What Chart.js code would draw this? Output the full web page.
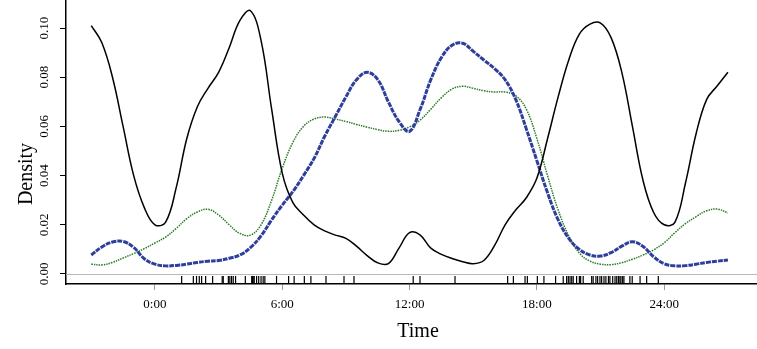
<!DOCTYPE html>
<html>
<head>
<meta charset="utf-8">
<script src="https://cdn.jsdelivr.net/npm/chart.js@4/dist/chart.umd.min.js"></script>
<style>
body { margin: 0; background: #fff; }
canvas { display: block; }
</style>
</head>
<body>
<canvas id="mycanvas" width="757" height="349"></canvas>
<script>
// time grid (hours), density curves
var hours = [-3, -2.5, -2, -1.5, -1, -0.5, 0, 0.5, 1, 1.5, 2, 2.5, 3, 3.5, 4, 4.5, 5, 5.5, 6, 6.5,
	7, 7.5, 8, 8.5, 9, 9.5, 10, 10.5, 11, 11.5, 12, 12.5, 13, 13.5, 14, 14.5, 15, 15.5, 16, 16.5,
	17, 17.5, 18, 18.5, 19, 19.5, 20, 20.5, 21, 21.5, 22, 22.5, 23, 23.5, 24, 24.5, 25, 25.5, 26, 26.5, 27];

var blackDensity = [0.101, 0.094, 0.080, 0.060, 0.040, 0.027, 0.0200, 0.0210, 0.035, 0.055, 0.068, 0.0755, 0.082, 0.092, 0.103, 0.107, 0.095, 0.067, 0.041, 0.029,
	0.024, 0.020, 0.0175, 0.0158, 0.0145, 0.0113, 0.0075, 0.0045, 0.0042, 0.0105, 0.0168, 0.0158, 0.0105, 0.008, 0.0063, 0.005, 0.0042, 0.0055, 0.0115, 0.020,
	0.026, 0.031, 0.039, 0.055, 0.072, 0.087, 0.0975, 0.1016, 0.102, 0.096, 0.082, 0.060, 0.038, 0.025, 0.0200, 0.021, 0.037, 0.057, 0.071, 0.0765, 0.082];

var blueDensity = [0.0077, 0.011, 0.013, 0.0132, 0.0108, 0.0062, 0.004, 0.0033, 0.0035, 0.004, 0.0047, 0.0052, 0.0055, 0.0064, 0.0077, 0.0107, 0.0155, 0.022, 0.028, 0.0335,
	0.040, 0.047, 0.056, 0.064, 0.072, 0.079, 0.082, 0.079, 0.070, 0.062, 0.058, 0.067, 0.079, 0.088, 0.093, 0.0938, 0.0905, 0.087, 0.0835, 0.079,
	0.071, 0.059, 0.046, 0.033, 0.022, 0.0145, 0.010, 0.0077, 0.0073, 0.0087, 0.0113, 0.0131, 0.0112, 0.007, 0.0042, 0.0033, 0.0034, 0.004, 0.0047, 0.0052, 0.0057];

var greenDensity = [0.004, 0.0037, 0.0047, 0.0065, 0.0083, 0.0103, 0.0126, 0.015, 0.0185, 0.0225, 0.0252, 0.0263, 0.024, 0.020, 0.0165, 0.0158, 0.020, 0.030, 0.043, 0.0535,
	0.060, 0.063, 0.0638, 0.063, 0.062, 0.0608, 0.0597, 0.0587, 0.058, 0.0584, 0.0598, 0.0626, 0.067, 0.0717, 0.0752, 0.0763, 0.0755, 0.0745, 0.074, 0.074,
	0.0725, 0.067, 0.055, 0.040, 0.026, 0.0155, 0.0085, 0.0052, 0.004, 0.0038, 0.0046, 0.006, 0.0077, 0.0098, 0.0127, 0.0168, 0.0205, 0.0233, 0.0257, 0.0264, 0.0248];

// observation times shown as a rug
var rugHours = [1.26, 1.81, 1.96, 2.09, 2.20, 2.39, 2.72, 3.17, 3.22, 3.46, 3.53, 3.61, 3.69, 3.80, 4.26, 4.56, 4.60, 4.63, 4.68, 4.79,
	4.89, 5.00, 5.10, 5.18, 5.73, 6.30, 6.56, 7.04, 7.35, 8.06, 8.91, 9.38, 12.17, 12.49, 14.14, 16.62, 16.89, 17.44, 17.55, 18.02,
	18.33, 18.88, 19.24, 19.40, 19.48, 19.56, 19.64, 19.71, 19.87, 20.00, 20.06, 20.18, 20.58, 20.65, 20.78, 20.86, 20.97, 21.05, 21.16, 21.25,
	21.37, 21.44, 21.57, 21.68, 21.76, 21.84, 21.91, 21.96, 22.04, 22.10, 22.38, 22.49, 22.86, 23.17, 23.72];

var xTicks = [0, 6, 12, 18, 24];
var yTicks = [0, 0.02, 0.04, 0.06, 0.08, 0.10];

var xMin = -4.19, xMax = 28.37;
var yMin = -0.00407, yMax = 0.1114;
var rugLevel = -0.0024;

function toPoints(values) {
	return hours.map(function(h, i) { return {x: h, y: values[i]}; });
}

var serif = "'Liberation Serif', 'DejaVu Serif', serif";

var extras = {
	id: 'extras',
	beforeDatasetsDraw: function(chart) {
		var ctx = chart.ctx;
		var area = chart.chartArea;
		var y0 = Math.round(chart.scales.y.getPixelForValue(0)) + 0.5;
		ctx.save();
		ctx.strokeStyle = '#b8b8b8';
		ctx.lineWidth = 1;
		ctx.beginPath();
		ctx.moveTo(area.left, y0);
		ctx.lineTo(area.right, y0);
		ctx.stroke();
		ctx.restore();
	},
	afterDraw: function(chart) {
		var ctx = chart.ctx;
		ctx.save();
		ctx.fillStyle = '#000';
		ctx.font = '20px ' + serif;
		ctx.textAlign = 'center';
		ctx.textBaseline = 'alphabetic';
		ctx.fillText('Time', 418, 337);
		ctx.translate(31.5, 174);
		ctx.rotate(-Math.PI / 2);
		ctx.fillText('Density', 0, 0);
		ctx.restore();
	}
};

var chartdata = {
	datasets: [
		{
			label: "black",
			data: toPoints(blackDensity),
			borderColor: "#000000",
			borderWidth: 1.5,
			pointRadius: 0,
			tension: 0.4
		},
		{
			label: "blue",
			data: toPoints(blueDensity),
			borderColor: "#2e3f99",
			borderWidth: 3,
			borderDash: [5, 1],
			pointRadius: 0,
			tension: 0.4
		},
		{
			label: "green",
			data: toPoints(greenDensity),
			borderColor: "#2a7d2a",
			borderWidth: 1.5,
			borderDash: [1.5, 1],
			pointRadius: 0,
			tension: 0.4
		},
		{
			label: "rug",
			data: rugHours.map(function(h) { return {x: h, y: rugLevel}; }),
			showLine: false,
			pointStyle: 'line',
			rotation: 90,
			pointRadius: 4,
			pointBorderColor: "#000000",
			pointBorderWidth: 1.2,
			clip: false
		}
	]
};

var ctx = document.getElementById("mycanvas");

var DensityGraph = new Chart(ctx, {
	type: 'line',
	data: chartdata,
	options: {
		responsive: false,
		animation: false,
		layout: { padding: 0, autoPadding: false },
		plugins: {
			legend: { display: false },
			tooltip: { enabled: false }
		},
		scales: {
			x: {
				type: 'linear',
				min: xMin,
				max: xMax,
				afterBuildTicks: function(scale) {
					scale.ticks = xTicks.map(function(v) { return {value: v}; });
				},
				afterFit: function(scale) {
					scale.height = 65;
					scale.paddingLeft = 0;
					scale.paddingRight = 0;
				},
				ticks: {
					callback: function(v) { return v + ':00'; },
					color: '#000',
					font: { family: serif, size: 13 },
					padding: 7,
					maxRotation: 0
				},
				grid: { drawOnChartArea: false, tickLength: 6, color: '#999999' },
				border: { color: '#000000', width: 1.5 }
			},
			y: {
				type: 'linear',
				min: yMin,
				max: yMax,
				afterBuildTicks: function(scale) {
					scale.ticks = yTicks.map(function(v) { return {value: v}; });
				},
				afterFit: function(scale) {
					scale.width = 66;
					scale.paddingTop = 0;
					scale.paddingBottom = 0;
				},
				ticks: {
					callback: function(v) { return v.toFixed(2); },
					color: '#000',
					font: { family: serif, size: 13 },
					minRotation: 90,
					maxRotation: 90,
					crossAlign: 'center',
					padding: 4
				},
				grid: { drawOnChartArea: false, tickLength: 6, color: '#000000' },
				border: { color: '#000000', width: 1.5 }
			}
		}
	},
	plugins: [extras]
});
</script>
</body>
</html>
